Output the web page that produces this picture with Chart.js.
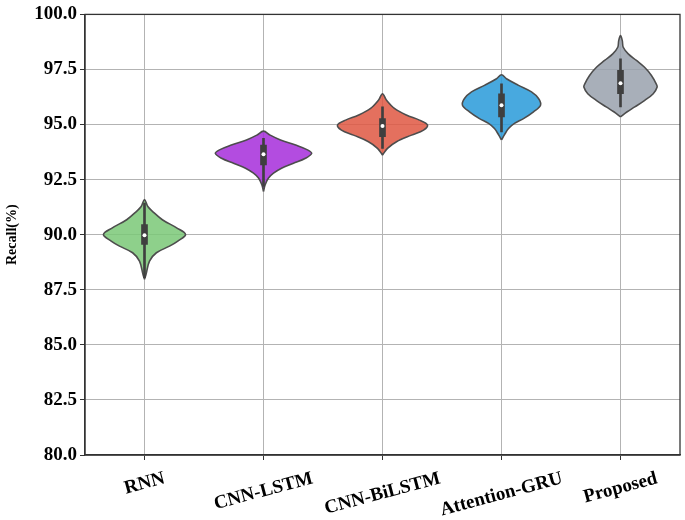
<!DOCTYPE html>
<html>
<head>
<meta charset="utf-8">
<script src="https://cdn.jsdelivr.net/npm/chart.js@4.4.1/dist/chart.umd.min.js"></script>
<style>
html,body{margin:0;padding:0;background:#fff;}
canvas{display:block;}
</style>
</head>
<body>
<canvas id="c" width="685" height="520"></canvas>
<script>
// ---------- data ----------
const categories = ['RNN', 'CNN-LSTM', 'CNN-BiLSTM', 'Attention-GRU', 'Proposed'];
const yTicks = [80.0, 82.5, 85.0, 87.5, 90.0, 92.5, 95.0, 97.5, 100.0];

// box-plot statistics (Recall %)
const medians     = [89.98, 93.65, 94.93, 95.88, 96.88];
const q1          = [89.56, 93.17, 94.45, 95.35, 96.40];
const q3          = [90.46, 94.07, 95.27, 96.40, 97.46];
const whiskerLow  = [88.05, 92.19, 93.92, 94.67, 95.80];
const whiskerHigh = [91.44, 94.37, 95.80, 96.85, 97.98];

// violin density profiles: recall levels and half-widths (in category units)
const rnnLevels  = [87.98, 88.20, 88.80, 89.18, 89.48, 89.71, 90.01, 90.31, 90.68, 91.06, 91.28, 91.59];
const rnnWidths  = [0, 0.013, 0.042, 0.10, 0.21, 0.28, 0.345, 0.27, 0.15, 0.067, 0.028, 0];
const lstmLevels = [91.96, 92.27, 92.57, 92.79, 93.02, 93.24, 93.47, 93.69, 93.85, 94.07, 94.30, 94.52, 94.70];
const lstmWidths = [0, 0.014, 0.042, 0.084, 0.151, 0.252, 0.353, 0.405, 0.37, 0.27, 0.143, 0.056, 0];
const bilstmLevels = [93.62, 93.92, 94.22, 94.52, 94.75, 94.98, 95.20, 95.43, 95.73, 96.10, 96.40];
const bilstmWidths = [0, 0.042, 0.118, 0.244, 0.345, 0.378, 0.31, 0.20, 0.10, 0.034, 0];
const gruLevels  = [94.30, 94.52, 94.82, 95.05, 95.27, 95.58, 95.88, 96.18, 96.48, 96.78, 97.08, 97.26];
const gruWidths  = [0, 0.023, 0.059, 0.109, 0.185, 0.269, 0.328, 0.311, 0.252, 0.143, 0.042, 0];
const propLevels = [95.35, 95.58, 95.80, 96.10, 96.40, 96.70, 96.85, 97.23, 97.61, 97.91, 98.21, 98.51, 98.81, 99.04];
const propWidths = [0, 0.056, 0.12, 0.204, 0.275, 0.308, 0.30, 0.26, 0.20, 0.134, 0.065, 0.023, 0.015, 0];

const violinLevels = [rnnLevels, lstmLevels, bilstmLevels, gruLevels, propLevels];
const violinWidths = [rnnWidths, lstmWidths, bilstmWidths, gruWidths, propWidths];

// ---------- styles ----------
const fillColors = [
  'rgba(124,200,120,0.86)',
  'rgba(167,47,219,0.86)',
  'rgba(223,88,67,0.86)',
  'rgba(42,155,218,0.86)',
  'rgba(154,162,173,0.86)'
];
const outline = '#4d4d4d';
const boxColor = '#3f3f3f';
const serif = "'Liberation Serif','Times New Roman',serif";

// ---------- build datasets ----------
function violinPoints(i) {
  const lv = violinLevels[i], w = violinWidths[i];
  const pts = [];
  for (let k = 0; k < lv.length; k++) pts.push({x: i + w[k], y: lv[k]});
  for (let k = lv.length - 2; k >= 1; k--) pts.push({x: i - w[k], y: lv[k]});
  pts.push({x: i + w[0], y: lv[0]});
  return pts;
}

const datasets = [];
categories.forEach((c, i) => {
  datasets.push({
    type: 'line',
    label: c,
    data: violinPoints(i),
    fill: 'shape',
    backgroundColor: fillColors[i],
    borderColor: outline,
    borderWidth: 1.6,
    tension: 0.35,
    pointRadius: 0,
    order: 10
  });
});
datasets.push({
  type: 'bar',
  label: 'whisker',
  data: categories.map((c, i) => ({x: i, y: [whiskerLow[i], whiskerHigh[i]]})),
  backgroundColor: boxColor,
  barThickness: 2,
  grouped: false,
  order: 5
});
datasets.push({
  type: 'bar',
  label: 'box',
  data: categories.map((c, i) => ({x: i, y: [q1[i], q3[i]]})),
  backgroundColor: boxColor,
  barThickness: 6,
  grouped: false,
  order: 4
});
datasets.push({
  type: 'scatter',
  label: 'median',
  data: categories.map((c, i) => ({x: i, y: medians[i]})),
  backgroundColor: '#ffffff',
  borderWidth: 0,
  pointRadius: 2,
  order: 1
});

// ---------- plugins ----------
const framePlugin = {
  id: 'frame',
  afterDraw(chart) {
    const {ctx, chartArea: a} = chart;
    ctx.save();
    ctx.strokeStyle = '#333';
    ctx.lineWidth = 1.3;
    ctx.strokeRect(a.left, a.top, a.right - a.left, a.bottom - a.top);
    ctx.restore();
  }
};
const xLabelPlugin = {
  id: 'xlabels',
  afterDraw(chart) {
    const {ctx, chartArea: a} = chart;
    const xs = chart.scales.x;
    const ang = 15 * Math.PI / 180;
    const fs = 19;
    ctx.save();
    ctx.font = 'bold ' + fs + 'px ' + serif;
    ctx.fillStyle = '#000';
    ctx.textAlign = 'center';
    ctx.textBaseline = 'middle';
    categories.forEach((c, i) => {
      const w = ctx.measureText(c).width;
      const h = fs * 0.9;
      const bh = w * Math.sin(ang) + h * Math.cos(ang);
      const cx = xs.getPixelForValue(i);
      const cy = a.bottom + 15 + bh / 2;
      ctx.save();
      ctx.translate(cx, cy);
      ctx.rotate(-ang);
      ctx.fillText(c, 0, 0);
      ctx.restore();
    });
    ctx.restore();
  }
};

new Chart(document.getElementById('c'), {
  data: {datasets},
  options: {
    responsive: false,
    animation: false,
    devicePixelRatio: 1,
    layout: {padding: {left: 0, right: 5, top: 12, bottom: 0}},
    plugins: {legend: {display: false}, tooltip: {enabled: false}},
    scales: {
      x: {
        type: 'linear',
        min: -0.5,
        max: 4.5,
        offset: false,
        afterBuildTicks: s => { s.ticks = categories.map((c, i) => ({value: i})); },
        afterFit: s => { s.height = 65; },
        ticks: {display: false},
        grid: {color: '#b3b3b3', lineWidth: 1, tickLength: 5, tickColor: '#333', offset: false},
        border: {color: '#333', width: 1.3}
      },
      y: {
        min: 80,
        max: 100,
        afterBuildTicks: s => { s.ticks = yTicks.map(v => ({value: v})); },
        afterFit: s => { s.width = 85; },
        ticks: {
          callback: v => Number(v).toFixed(1),
          color: '#000',
          padding: 3,
          font: {family: serif, size: 19, weight: 'bold'}
        },
        title: {
          display: true,
          text: 'Recall(%)',
          color: '#000',
          font: {family: serif, size: 14, weight: 'bold'},
          padding: {top: 4, bottom: 4}
        },
        grid: {color: '#b3b3b3', lineWidth: 1, tickLength: 5, tickColor: '#333'},
        border: {color: '#333', width: 1.3}
      }
    }
  },
  plugins: [framePlugin, xLabelPlugin]
});
</script>
</body>
</html>
